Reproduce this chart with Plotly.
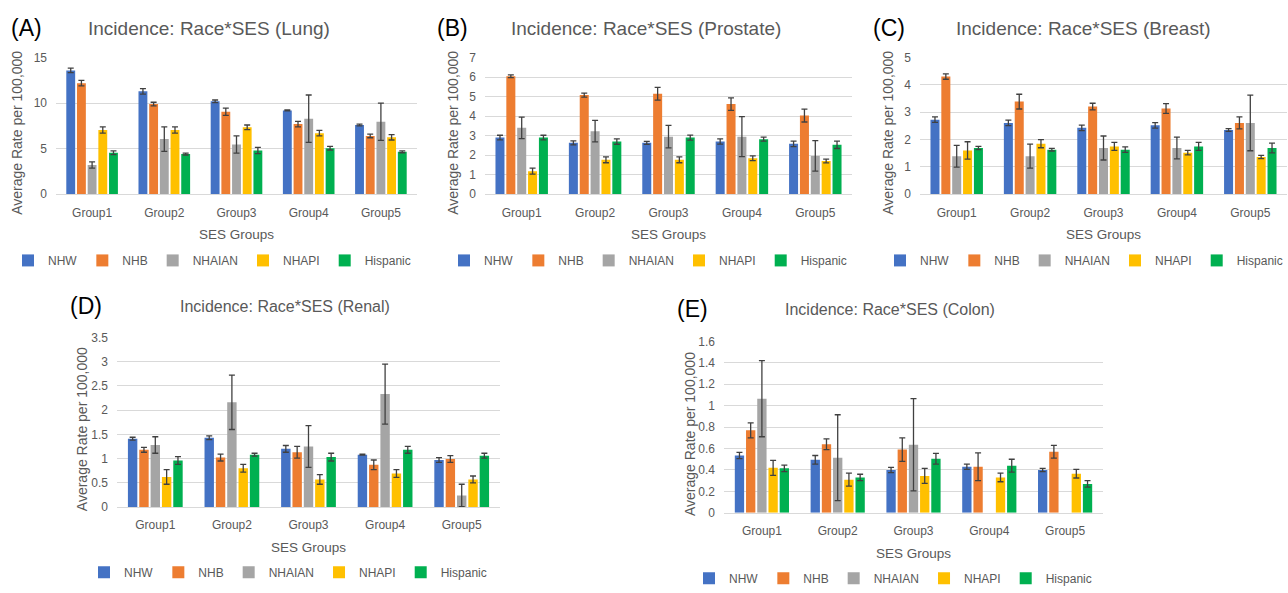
import plotly.graph_objects as go

W, H = 1288, 593

groups = ["Group1", "Group2", "Group3", "Group4", "Group5"]
races = ["NHW", "NHB", "NHAIAN", "NHAPI", "Hispanic"]
colors = ["#4472C4", "#ED7D31", "#A5A5A5", "#FFC000", "#00B050"]

# Panel A: Lung
lung_vals = {
    "NHW": [13.6, 11.3, 10.2, 9.2, 7.6],
    "NHB": [12.2, 9.9, 9.05, 7.7, 6.4],
    "NHAIAN": [3.2, 6.05, 5.45, 8.3, 7.95],
    "NHAPI": [7.05, 7.05, 7.35, 6.7, 6.25],
    "Hispanic": [4.55, 4.4, 4.8, 5.05, 4.65],
}
lung_err = {
    "NHW": [0.25, 0.3, 0.15, 0.05, 0.1],
    "NHB": [0.3, 0.2, 0.4, 0.3, 0.2],
    "NHAIAN": [0.35, 1.35, 0.95, 2.6, 2.05],
    "NHAPI": [0.35, 0.35, 0.25, 0.3, 0.3],
    "Hispanic": [0.2, 0.1, 0.35, 0.2, 0.1],
}

# Panel B: Prostate
prostate_vals = {
    "NHW": [2.9, 2.63, 2.63, 2.7, 2.58],
    "NHB": [6.05, 5.08, 5.15, 4.62, 4.03],
    "NHAIAN": [3.4, 3.23, 2.95, 2.95, 1.96],
    "NHAPI": [1.18, 1.76, 1.76, 1.84, 1.7],
    "Hispanic": [2.9, 2.7, 2.9, 2.82, 2.53],
}
prostate_err = {
    "NHW": [0.12, 0.1, 0.08, 0.13, 0.14],
    "NHB": [0.07, 0.1, 0.33, 0.32, 0.33],
    "NHAIAN": [0.55, 0.55, 0.58, 1.03, 0.78],
    "NHAPI": [0.15, 0.15, 0.15, 0.12, 0.1],
    "Hispanic": [0.12, 0.14, 0.13, 0.1, 0.19],
}

# Panel C: Breast
breast_vals = {
    "NHW": [2.73, 2.61, 2.43, 2.52, 2.35],
    "NHB": [4.31, 3.39, 3.21, 3.14, 2.61],
    "NHAIAN": [1.39, 1.39, 1.69, 1.69, 2.61],
    "NHAPI": [1.6, 1.85, 1.75, 1.52, 1.36],
    "Hispanic": [1.69, 1.63, 1.63, 1.75, 1.69],
}
breast_err = {
    "NHW": [0.1, 0.1, 0.1, 0.1, 0.05],
    "NHB": [0.1, 0.27, 0.12, 0.18, 0.22],
    "NHAIAN": [0.4, 0.44, 0.44, 0.4, 1.02],
    "NHAPI": [0.32, 0.15, 0.15, 0.08, 0.06],
    "Hispanic": [0.06, 0.05, 0.1, 0.15, 0.18],
}

# Panel D: Renal
renal_vals = {
    "NHW": [1.41, 1.43, 1.2, 1.08, 0.97],
    "NHB": [1.18, 1.02, 1.13, 0.87, 0.99],
    "NHAIAN": [1.28, 2.16, 1.25, 2.33, 0.24],
    "NHAPI": [0.62, 0.8, 0.57, 0.69, 0.57],
    "Hispanic": [0.96, 1.08, 1.03, 1.18, 1.06],
}
renal_err = {
    "NHW": [0.03, 0.04, 0.07, 0.01, 0.05],
    "NHB": [0.05, 0.07, 0.12, 0.1, 0.07],
    "NHAIAN": [0.17, 0.56, 0.43, 0.62, 0.23],
    "NHAPI": [0.15, 0.08, 0.1, 0.08, 0.07],
    "Hispanic": [0.08, 0.03, 0.08, 0.07, 0.05],
}

# Panel E: Colon
colon_vals = {
    "NHW": [0.535, 0.495, 0.4, 0.43, 0.4],
    "NHB": [0.77, 0.64, 0.59, 0.43, 0.57],
    "NHAIAN": [1.065, 0.515, 0.635, None, None],
    "NHAPI": [0.42, 0.31, 0.345, 0.33, 0.365],
    "Hispanic": [0.415, 0.33, 0.505, 0.44, 0.27],
}
colon_err = {
    "NHW": [0.03, 0.04, 0.025, 0.025, 0.015],
    "NHB": [0.07, 0.05, 0.11, 0.13, 0.06],
    "NHAIAN": [0.355, 0.4, 0.43, None, None],
    "NHAPI": [0.07, 0.06, 0.07, 0.04, 0.04],
    "Hispanic": [0.03, 0.03, 0.05, 0.06, 0.03],
}

panels = [
    dict(label="(A)", title="Incidence: Race*SES (Lung)", vals=lung_vals, err=lung_err,
         ymax=15, dtick=5, box=(56, 417, 52, 192), lab=(26, 22), tcx=209, ytx=17, legx=212, legy=260, small=False),
    dict(label="(B)", title="Incidence: Race*SES (Prostate)", vals=prostate_vals, err=prostate_err,
         ymax=7, dtick=1, box=(485, 852, 52, 192), lab=(452, 22), tcx=646, ytx=453, legx=648, legy=260, small=False),
    dict(label="(C)", title="Incidence: Race*SES (Breast)", vals=breast_vals, err=breast_err,
         ymax=5, dtick=1, box=(920, 1287, 52, 192), lab=(889, 22), tcx=1083, ytx=888, legx=1084, legy=260, small=False),
    dict(label="(D)", title="Incidence: Race*SES (Renal)", vals=renal_vals, err=renal_err,
         ymax=3.5, dtick=0.5, box=(117, 500, 339, 513), lab=(86, 307), tcx=285, ytx=82, legx=288, legy=580, small=True),
    dict(label="(E)", title="Incidence: Race*SES (Colon)", vals=colon_vals, err=colon_err,
         ymax=1.6, dtick=0.2, box=(724, 1103, 343, 519), lab=(693, 310), tcx=890, ytx=690, legx=893, legy=586, small=True),
]

FONT = "Liberation Sans, Arial, sans-serif"
GRAY = "#595959"

fig = go.Figure()
annotations = []
layout = dict(
    width=W, height=H, margin=dict(l=0, r=0, t=0, b=0),
    paper_bgcolor="white", plot_bgcolor="white",
    barmode="group", bargap=0.26, bargroupgap=0.17,
    font=dict(family=FONT, color=GRAY, size=12),
)

for i, p in enumerate(panels):
    n = "" if i == 0 else str(i + 1)
    x0, x1, y0, y1 = p["box"]
    legname = "legend" + n
    for r, c in zip(races, colors):
        fig.add_trace(go.Bar(
            x=groups, y=p["vals"][r], name=r,
            marker=dict(color=c, line=dict(width=0)),
            error_y=dict(type="data", array=p["err"][r], visible=True,
                         color="#404040", thickness=1.3, width=3),
            xaxis="x" + n, yaxis="y" + n, legend=legname, showlegend=True,
        ))
    layout["xaxis" + n] = dict(
        domain=[x0 / W, x1 / W], anchor="y" + n, categoryorder="array", categoryarray=groups,
        showgrid=False, showline=True, linecolor="#D9D9D9", linewidth=1, ticks="",
        tickfont=dict(family=FONT, size=12, color=GRAY), ticklabelstandoff=7, fixedrange=True,
    )
    layout["yaxis" + n] = dict(
        domain=[1 - y1 / H, 1 - y0 / H], anchor="x" + n, range=[0, p["ymax"]], dtick=p["dtick"],
        showgrid=True, gridcolor="#D9D9D9", gridwidth=1, zeroline=False, showline=False, ticks="",
        tickfont=dict(family=FONT, size=12, color=GRAY), ticklabelstandoff=8, fixedrange=True,
    )
    layout[legname] = dict(
        orientation="h", x=p["legx"] / W, y=1 - p["legy"] / H, xanchor="center", yanchor="middle",
        bgcolor="rgba(0,0,0,0)", font=dict(family=FONT, size=12, color=GRAY),
        itemwidth=30, traceorder="normal", tracegroupgap=0,
    )
    cx = (x0 + x1) / 2
    annotations.append(dict(text=p["title"], x=p["tcx"] / W, y=1 - p["lab"][1] / H,
                            xref="paper", yref="paper", xanchor="center", yanchor="middle", showarrow=False,
                            font=dict(family=FONT, size=16 if p["small"] else 19, color=GRAY)))
    annotations.append(dict(text=p["label"], x=p["lab"][0] / W, y=1 - p["lab"][1] / H,
                            xref="paper", yref="paper", xanchor="center", yanchor="middle", showarrow=False,
                            font=dict(family=FONT, size=23, color="black")))
    annotations.append(dict(text="Average Rate per 100,000", x=p["ytx"] / W, y=1 - (y0 + y1) / 2 / H - 0.012,
                            xref="paper", yref="paper", xanchor="center", yanchor="middle", showarrow=False,
                            textangle=-90, font=dict(family=FONT, size=14, color=GRAY)))
    annotations.append(dict(text="SES Groups", x=cx / W, y=1 - (y1 + (41 if i < 3 else 42)) / H,
                            xref="paper", yref="paper", xanchor="center", yanchor="middle", showarrow=False,
                            font=dict(family=FONT, size=13.5, color=GRAY)))

layout["annotations"] = annotations
fig.update_layout(**layout)
fig.write_html("out.html")
